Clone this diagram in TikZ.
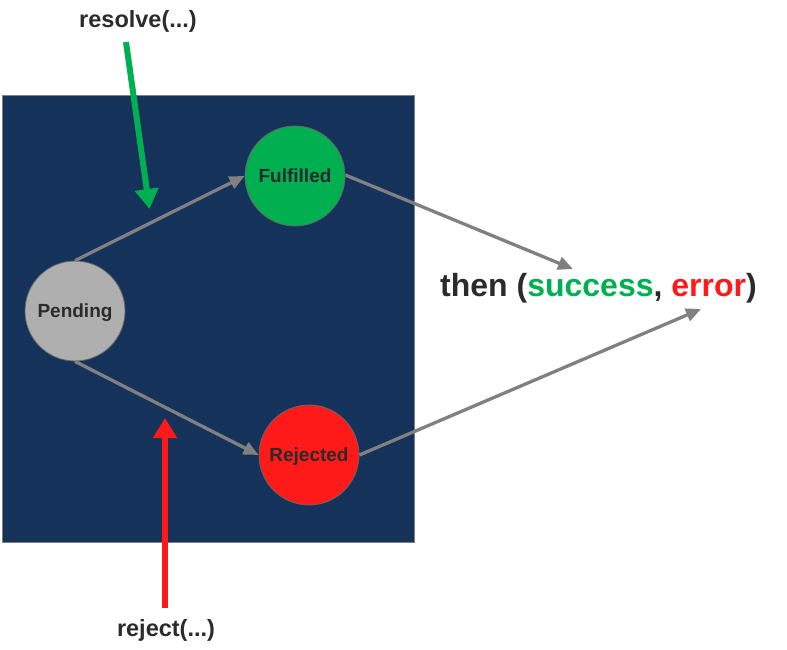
\documentclass[tikz,border=0pt]{standalone}
\usepackage{fontspec}
\setmainfont{Liberation Sans}
\usetikzlibrary{arrows.meta}
\definecolor{navy}{HTML}{15325A}
\definecolor{txt}{HTML}{2B2B2B}
\definecolor{pgray}{HTML}{AFAFAF}
\definecolor{fgreen}{HTML}{00AF50}
\definecolor{rred}{HTML}{FF1A1A}
\definecolor{agray}{HTML}{808080}
\begin{document}
\begin{tikzpicture}[x=1pt,y=-1pt,
  state/.style={circle,minimum size=100pt,inner sep=0pt,draw=agray!80!black,line width=0.8pt,
    text=txt,text depth=0pt,font=\fontsize{19}{22}\selectfont\bfseries},
  flow/.style={draw=agray,line width=3.3pt,-{Triangle[length=15pt,width=13pt]}},
  call/.style={line width=6pt,-{Triangle[length=20pt,width=23pt]}},
  lbl/.style={text=txt,font=\fontsize{23.5}{28}\selectfont\bfseries,inner sep=0pt}]
\useasboundingbox (0,0) rectangle (787,650);
\node[draw=agray,line width=0.8pt,fill=navy,minimum width=412pt,minimum height=446pt,inner sep=0pt,anchor=north west] (box) at (1.5,95.5) {};
\node[state,fill=pgray] (pend) at (75,311) {Pending};
\node[state,fill=fgreen] (ful) at (295,176) {Fulfilled};
\node[state,fill=rred] (rej) at (309,455) {Rejected};
\node[text=txt,font=\fontsize{32}{36}\selectfont\bfseries,inner sep=0pt] (then) at (598.5,288)
  {then (\textcolor{fgreen}{success}, \textcolor{rred}{error})};
\node[lbl] (res) at (138,21) {resolve(...)};
\node[lbl] (rjc) at (166,630) {reject(...)};
\coordinate (t1) at (573,269);
\coordinate (t2) at (701,309);
\coordinate (g0) at (126,42);
\coordinate (g1) at (149.5,209);
\coordinate (r0) at (165,608);
\coordinate (r1) at (165,418);
\draw[flow] (pend.north) -- (ful.west);
\draw[flow] (pend.south) -- (rej.west);
\draw[flow] ([yshift=1pt]ful.east) -- (t1);
\draw[flow] (rej.east) -- (t2);
\draw[call,draw=fgreen,fill=fgreen] (g0) -- (g1);
\draw[call,draw=rred,fill=rred] (r0) -- (r1);
\end{tikzpicture}
\end{document}
